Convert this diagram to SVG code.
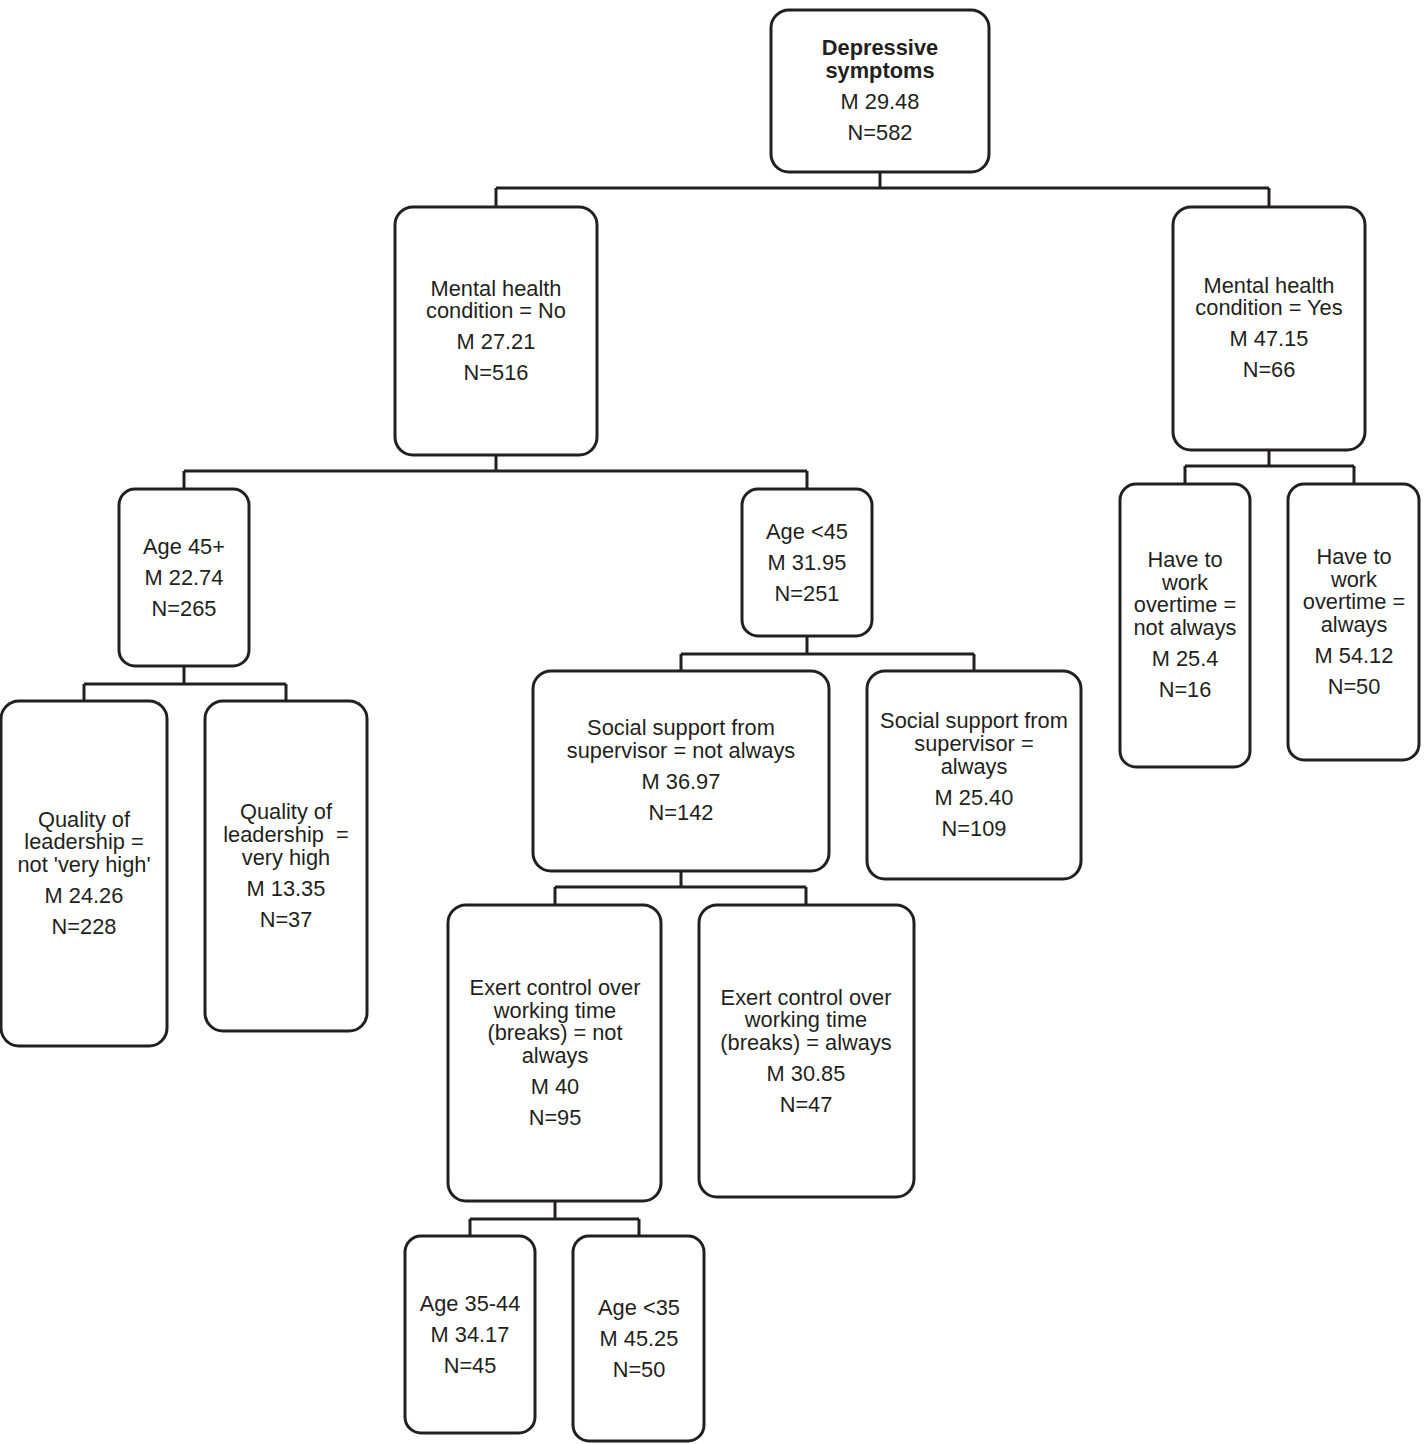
<svg xmlns="http://www.w3.org/2000/svg" width="1424" height="1444" viewBox="0 0 1424 1444">
<style>
.box{fill:#fff;stroke:#231f20;stroke-width:3;}
.t{font-family:"Liberation Sans",Arial,sans-serif;font-size:21.8px;fill:#231f20;text-anchor:middle;}
.b{font-weight:bold;}
.c{fill:none;stroke:#231f20;stroke-width:3;}
</style>
<rect width="1424" height="1444" fill="#fff"/>
<g id="connectors">
<path class="c" d="M880 172V188M496 188H1269M496 188V208M1269 188V208"/>
<path class="c" d="M496 455V471M184 471H807M184 471V490M807 471V490"/>
<path class="c" d="M184 666V684M84 684H286M84 684V702M286 684V702"/>
<path class="c" d="M1269 450V466M1185 466H1354M1185 466V485M1354 466V485"/>
<path class="c" d="M807 636V654M681 654H974M681 654V672M974 654V672"/>
<path class="c" d="M681 871V887M555 887H806M555 887V906M806 887V906"/>
<path class="c" d="M555 1201V1219M470 1219H639M470 1219V1237M639 1219V1237"/>
</g>
<g id="root">
<rect class="box" x="771" y="10" width="218" height="162" rx="18"/>
<text class="t b" x="880" y="55">Depressive</text>
<text class="t b" x="880" y="78">symptoms</text>
<text class="t" x="880" y="109">M 29.48</text>
<text class="t" x="880" y="140">N=582</text>
</g>
<g id="mh-no">
<rect class="box" x="395" y="207" width="202" height="248" rx="18"/>
<text class="t" x="496" y="296">Mental health</text>
<text class="t" x="496" y="318">condition = No</text>
<text class="t" x="496" y="349">M 27.21</text>
<text class="t" x="496" y="380">N=516</text>
</g>
<g id="mh-yes">
<rect class="box" x="1173" y="207" width="192" height="243" rx="18"/>
<text class="t" x="1269" y="293">Mental health</text>
<text class="t" x="1269" y="315">condition = Yes</text>
<text class="t" x="1269" y="346">M 47.15</text>
<text class="t" x="1269" y="377">N=66</text>
</g>
<g id="age45plus">
<rect class="box" x="119" y="489" width="130" height="177" rx="16"/>
<text class="t" x="184" y="554">Age 45+</text>
<text class="t" x="184" y="585">M 22.74</text>
<text class="t" x="184" y="616">N=265</text>
</g>
<g id="age-under45">
<rect class="box" x="742" y="489" width="130" height="147" rx="16"/>
<text class="t" x="807" y="539">Age &lt;45</text>
<text class="t" x="807" y="570">M 31.95</text>
<text class="t" x="807" y="601">N=251</text>
</g>
<g id="quality-not">
<rect class="box" x="1" y="701" width="166" height="345" rx="18"/>
<text class="t" x="84" y="827">Quality of</text>
<text class="t" x="84" y="849">leadership =</text>
<text class="t" x="84" y="872">not 'very high'</text>
<text class="t" x="84" y="903">M 24.26</text>
<text class="t" x="84" y="934">N=228</text>
</g>
<g id="quality-high">
<rect class="box" x="205" y="701" width="162" height="330" rx="18"/>
<text class="t" x="286" y="819">Quality of</text>
<text class="t" x="286" y="842" xml:space="preserve">leadership  =</text>
<text class="t" x="286" y="865">very high</text>
<text class="t" x="286" y="896">M 13.35</text>
<text class="t" x="286" y="927">N=37</text>
</g>
<g id="overtime-not">
<rect class="box" x="1120" y="484" width="130" height="283" rx="16"/>
<text class="t" x="1185" y="567">Have to</text>
<text class="t" x="1185" y="590">work</text>
<text class="t" x="1185" y="612">overtime =</text>
<text class="t" x="1185" y="635">not always</text>
<text class="t" x="1185" y="666">M 25.4</text>
<text class="t" x="1185" y="697">N=16</text>
</g>
<g id="overtime-always">
<rect class="box" x="1288" y="484" width="131" height="276" rx="16"/>
<text class="t" x="1354" y="564">Have to</text>
<text class="t" x="1354" y="587">work</text>
<text class="t" x="1354" y="609">overtime =</text>
<text class="t" x="1354" y="632">always</text>
<text class="t" x="1354" y="663">M 54.12</text>
<text class="t" x="1354" y="694">N=50</text>
</g>
<g id="ss-not">
<rect class="box" x="533" y="671" width="296" height="200" rx="18"/>
<text class="t" x="681" y="735">Social support from</text>
<text class="t" x="681" y="758">supervisor = not always</text>
<text class="t" x="681" y="789">M 36.97</text>
<text class="t" x="681" y="820">N=142</text>
</g>
<g id="ss-always">
<rect class="box" x="867" y="671" width="214" height="208" rx="18"/>
<text class="t" x="974" y="728">Social support from</text>
<text class="t" x="974" y="751">supervisor =</text>
<text class="t" x="974" y="774">always</text>
<text class="t" x="974" y="805">M 25.40</text>
<text class="t" x="974" y="836">N=109</text>
</g>
<g id="exert-not">
<rect class="box" x="448" y="905" width="213" height="296" rx="18"/>
<text class="t" x="555" y="995">Exert control over</text>
<text class="t" x="555" y="1018">working time</text>
<text class="t" x="555" y="1040">(breaks) = not</text>
<text class="t" x="555" y="1063">always</text>
<text class="t" x="555" y="1094">M 40</text>
<text class="t" x="555" y="1125">N=95</text>
</g>
<g id="exert-always">
<rect class="box" x="699" y="905" width="215" height="292" rx="18"/>
<text class="t" x="806" y="1005">Exert control over</text>
<text class="t" x="806" y="1027">working time</text>
<text class="t" x="806" y="1050">(breaks) = always</text>
<text class="t" x="806" y="1081">M 30.85</text>
<text class="t" x="806" y="1112">N=47</text>
</g>
<g id="age35-44">
<rect class="box" x="405" y="1236" width="130" height="197" rx="16"/>
<text class="t" x="470" y="1311">Age 35-44</text>
<text class="t" x="470" y="1342">M 34.17</text>
<text class="t" x="470" y="1373">N=45</text>
</g>
<g id="age-under35">
<rect class="box" x="573" y="1236" width="131" height="205" rx="16"/>
<text class="t" x="639" y="1315">Age &lt;35</text>
<text class="t" x="639" y="1346">M 45.25</text>
<text class="t" x="639" y="1377">N=50</text>
</g>
</svg>
